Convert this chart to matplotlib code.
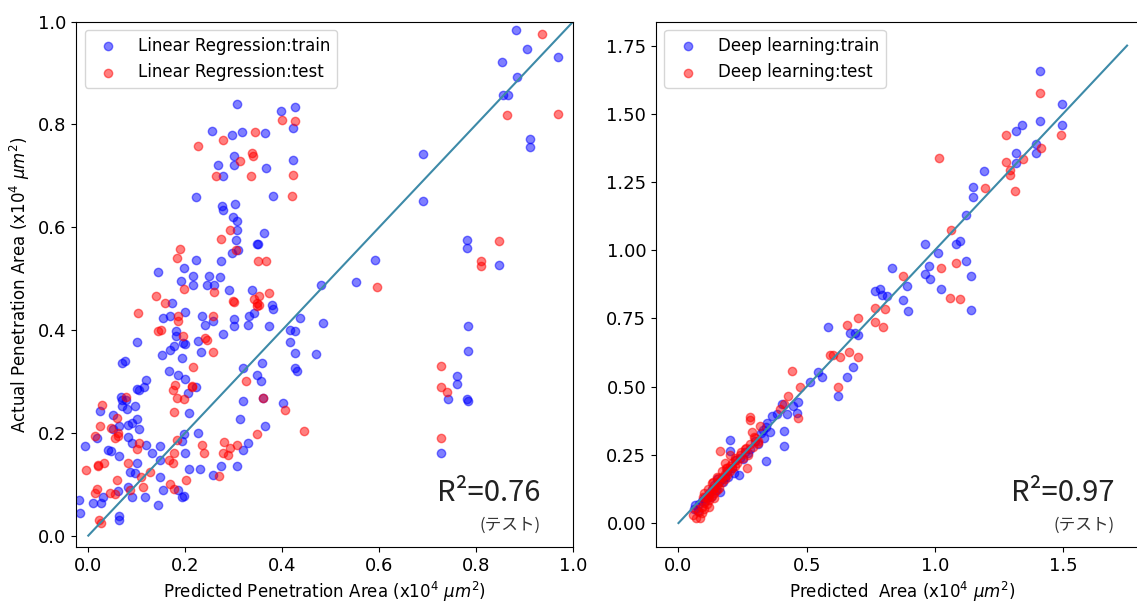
import numpy as np
import matplotlib
matplotlib.use('Agg')
import matplotlib.pyplot as plt

plt.rcParams['font.family'] = ['DejaVu Sans', 'Noto Sans CJK JP']

# ---- Linear regression (left panel) ----
lr_train_x = [0.882, 0.904, 0.969, 0.854, 0.884, 0.856, 0.865, 0.912, 0.912, 0.691, 0.691, 0.781, 0.781, 0.847,
              0.592, 0.553, 0.481, 0.307, 0.397, 0.427, 0.422, 0.256, 0.296, 0.317, 0.365, 0.300, 0.300, 0.268,
              0.367, 0.277, 0.423, 0.223, 0.382, 0.276, 0.303, 0.277, 0.298, 0.307, 0.307, 0.304, 0.362, 0.297,
              0.351, 0.273, 0.222, 0.197, 0.144, 0.216, 0.248, 0.271, 0.191, 0.245, 0.260, 0.216, 0.290, 0.338,
              0.308, 0.348,
              0.172, 0.200, 0.379, 0.381, 0.154, 0.169, 0.234, 0.241, 0.257, 0.300, 0.300, 0.331, 0.341, 0.330,
              0.372, 0.437, 0.485, 0.100, 0.181, 0.181, 0.196, 0.200, 0.226, 0.232, 0.278, 0.152, 0.169, 0.177,
              0.193, 0.069, 0.076, 0.320, 0.358, 0.416, 0.427, 0.416, 0.427, 0.470, 0.427,
              0.166, 0.200, 0.206, 0.185, 0.222, 0.208, 0.227, 0.231, 0.208, 0.200, 0.198, 0.198, 0.193, 0.273,
              0.307, 0.319, 0.330, 0.258, 0.147, 0.147, 0.147, 0.116, 0.143, 0.155, 0.185, 0.193, 0.100, 0.097,
              0.086, 0.082, 0.090, 0.063, 0.061, 0.063, 0.064, 0.031, 0.026, 0.010, -0.017, -0.020, -0.007, 0.017,
              0.025, 0.040, 0.047, 0.050, 0.064, 0.068, 0.070, 0.070, 0.077, 0.080, 0.097, 0.101, 0.105, 0.115,
              0.120, 0.101, 0.082, 0.090, 0.105, 0.082, 0.090, 0.120, 0.132, 0.050, 0.349, 0.357, 0.320, 0.313,
              0.365, 0.401, 0.430, 0.361, 0.781, 0.761, 0.761, 0.742, 0.728, 0.783, 0.783, 0.783]
lr_train_y = [0.984, 0.947, 0.931, 0.921, 0.892, 0.857, 0.857, 0.772, 0.757, 0.742, 0.652, 0.575, 0.560, 0.526,
              0.537, 0.494, 0.487, 0.840, 0.826, 0.835, 0.793, 0.787, 0.780, 0.785, 0.783, 0.738, 0.722, 0.722,
              0.715, 0.700, 0.730, 0.658, 0.660, 0.642, 0.646, 0.634, 0.620, 0.613, 0.595, 0.576, 0.588, 0.550,
              0.567, 0.534, 0.537, 0.521, 0.513, 0.505, 0.506, 0.503, 0.495, 0.487, 0.487, 0.487, 0.477, 0.477,
              0.556, 0.568,
              0.452, 0.436, 0.448, 0.440, 0.424, 0.427, 0.428, 0.410, 0.417, 0.421, 0.408, 0.428, 0.433, 0.410,
              0.408, 0.424, 0.414, 0.376, 0.398, 0.388, 0.375, 0.372, 0.378, 0.358, 0.393, 0.352, 0.362, 0.368,
              0.345, 0.336, 0.340, 0.326, 0.336, 0.401, 0.398, 0.376, 0.355, 0.354, 0.326,
              0.320, 0.305, 0.277, 0.313, 0.289, 0.238, 0.200, 0.129, 0.129, 0.160, 0.078, 0.197, 0.184, 0.135,
              0.135, 0.167, 0.180, 0.118, 0.174, 0.148, 0.115, 0.076, 0.060, 0.089, 0.089, 0.076, 0.141, 0.122,
              0.124, 0.095, 0.076, 0.154, 0.086, 0.038, 0.031, 0.076, 0.063, 0.063, 0.044, 0.070, 0.174, 0.190,
              0.242, 0.167, 0.164, 0.235, 0.213, 0.269, 0.263, 0.253, 0.263, 0.247, 0.253, 0.286, 0.283, 0.290,
              0.302, 0.226, 0.216, 0.219, 0.207, 0.191, 0.180, 0.177, 0.160, 0.207, 0.313, 0.300, 0.262, 0.227,
              0.214, 0.258, 0.321, 0.268, 0.265, 0.310, 0.295, 0.265, 0.160, 0.360, 0.408, 0.262]

lr_test_x = [0.935, 0.863, 0.969, 0.847, 0.810, 0.810, 0.595, 0.400, 0.427, 0.277, 0.344, 0.226, 0.338, 0.340,
             0.313, 0.264, 0.336, 0.422, 0.420, 0.292, 0.273, 0.305, 0.351, 0.367, 0.189, 0.184, 0.353, 0.372,
             0.197, 0.260, 0.139,
             0.159, 0.298, 0.347, 0.347, 0.102, 0.186, 0.186, 0.258, 0.143, 0.150, 0.196, 0.241, 0.244, 0.258,
             0.217, 0.342, 0.353, 0.300,
             0.326, 0.361, 0.349, 0.406, 0.446, 0.214, 0.214, 0.178, 0.174, 0.184, 0.198, 0.176, 0.235, 0.239,
             0.202, 0.176, 0.166, 0.174, 0.177, 0.184, 0.277, 0.280, 0.292, 0.288, 0.307, 0.269, 0.128, 0.109,
             0.113, 0.169, 0.105, 0.101, 0.082, 0.086, 0.059, 0.055, 0.044, 0.023, 0.026, 0.013, 0.017, -0.004,
             0.013, 0.025, 0.029, 0.021, 0.019, 0.032, 0.047, 0.059, 0.061, 0.061, 0.077, 0.056, 0.728, 0.728,
             0.740, 0.728]
lr_test_y = [0.976, 0.818, 0.820, 0.573, 0.534, 0.524, 0.484, 0.809, 0.806, 0.770, 0.785, 0.759, 0.745, 0.738,
             0.728, 0.700, 0.700, 0.702, 0.660, 0.595, 0.577, 0.556, 0.534, 0.534, 0.558, 0.541, 0.467, 0.472,
             0.479, 0.474, 0.466,
             0.452, 0.456, 0.446, 0.452, 0.433, 0.428, 0.417, 0.428, 0.398, 0.401, 0.388, 0.384, 0.381, 0.358,
             0.329, 0.460, 0.449, 0.454,
             0.300, 0.268, 0.197, 0.245, 0.203, 0.292, 0.289, 0.294, 0.284, 0.268, 0.266, 0.240, 0.177, 0.160,
             0.108, 0.090, 0.148, 0.141, 0.160, 0.187, 0.160, 0.183, 0.171, 0.157, 0.177, 0.116, 0.124, 0.115,
             0.095, 0.100, 0.180, 0.168, 0.141, 0.089, 0.109, 0.081, 0.083, 0.031, 0.025, 0.083, 0.090, 0.128,
             0.193, 0.213, 0.255, 0.137, 0.135, 0.141, 0.210, 0.229, 0.200, 0.193, 0.270, 0.190, 0.330, 0.290,
             0.280, 0.189]

# ---- Deep learning (right panel) ----
dl_train_x = [0.060, 0.066, 0.075, 0.080, 0.098, 0.090, 0.110, 0.120, 0.130, 0.140, 0.150, 0.163, 0.160, 0.170,
              0.180, 0.190, 0.200, 0.202, 0.210, 0.220, 0.235, 0.240, 0.260, 0.280, 0.300, 0.320, 0.330, 0.342,
              0.358, 0.342, 0.345, 0.365, 0.384, 0.403, 0.423, 0.447, 0.410, 0.410,
              0.462, 0.468, 0.514, 0.546, 0.559, 0.585, 0.624, 0.656, 0.682, 0.669, 0.689, 0.702, 0.767, 0.786,
              0.793, 0.812, 0.890, 0.877, 0.894, 0.834, 0.961, 0.981, 1.026, 1.143, 1.143, 0.978, 0.961, 1.013,
              1.082, 1.097, 1.123, 1.123, 1.149, 1.149, 1.192, 1.316, 1.318, 1.341, 1.318, 1.395, 1.395, 1.412,
              1.412, 1.497, 1.497,
              0.105, 0.125, 0.145, 0.175, 0.195, 0.215, 0.250, 0.270, 0.310, 0.335]
dl_train_y = [0.050, 0.066, 0.045, 0.070, 0.090, 0.080, 0.100, 0.110, 0.125, 0.140, 0.160, 0.115, 0.150, 0.160,
              0.170, 0.190, 0.306, 0.263, 0.200, 0.230, 0.177, 0.240, 0.260, 0.270, 0.300, 0.330, 0.340, 0.352,
              0.333, 0.226, 0.368, 0.393, 0.399, 0.436, 0.399, 0.430, 0.337, 0.281,
              0.405, 0.442, 0.516, 0.553, 0.534, 0.720, 0.467, 0.534, 0.571, 0.695, 0.697, 0.689, 0.849, 0.856,
              0.837, 0.831, 0.868, 0.819, 0.778, 0.936, 0.911, 0.893, 0.858, 0.781, 0.907, 0.942, 1.022, 0.991,
              1.022, 1.034, 0.960, 1.130, 1.233, 1.196, 1.291, 1.357, 1.320, 1.458, 1.438, 1.389, 1.356, 1.475,
              1.658, 1.537, 1.458,
              0.080, 0.095, 0.120, 0.150, 0.170, 0.185, 0.235, 0.255, 0.290, 0.310]

dl_test_x = [0.055, 0.070, 0.085, 0.070, 0.080, 0.090, 0.090, 0.100, 0.100, 0.110, 0.110, 0.120, 0.120, 0.130,
             0.130, 0.140, 0.140, 0.150, 0.150, 0.160, 0.160, 0.170, 0.170, 0.180, 0.180, 0.190, 0.190, 0.200,
             0.200, 0.210, 0.210, 0.220, 0.220, 0.230, 0.240, 0.250, 0.260, 0.270, 0.280, 0.290, 0.300, 0.310,
             0.100, 0.130, 0.150, 0.170, 0.120, 0.140, 0.163, 0.267, 0.280, 0.287, 0.293, 0.312, 0.180, 0.200,
             0.280, 0.319, 0.397, 0.410, 0.429, 0.442, 0.468, 0.475, 0.591, 0.604, 0.630, 0.624, 0.667, 0.702,
             0.656, 0.702, 0.767, 0.799, 0.767, 0.805, 0.877, 1.061, 1.097, 1.026, 1.084, 1.065, 1.017, 1.195,
             1.311, 1.294, 1.294, 1.279, 1.344, 1.279, 1.415, 1.493, 1.412,
             0.095, 0.115, 0.135, 0.155, 0.185, 0.225, 0.245, 0.265]
dl_test_y = [0.030, 0.020, 0.020, 0.050, 0.040, 0.035, 0.060, 0.050, 0.075, 0.070, 0.090, 0.085, 0.100, 0.100,
             0.120, 0.110, 0.130, 0.120, 0.140, 0.130, 0.155, 0.150, 0.170, 0.160, 0.180, 0.175, 0.200, 0.190,
             0.210, 0.200, 0.220, 0.210, 0.240, 0.220, 0.250, 0.240, 0.270, 0.250, 0.290, 0.280, 0.310, 0.300,
             0.110, 0.145, 0.170, 0.190, 0.060, 0.090, 0.263, 0.201, 0.378, 0.333, 0.314, 0.294, 0.220, 0.250,
             0.388, 0.356, 0.417, 0.436, 0.467, 0.559, 0.386, 0.497, 0.615, 0.615, 0.608, 0.497, 0.627, 0.608,
             0.726, 0.751, 0.738, 0.720, 0.788, 0.784, 0.905, 0.825, 0.820, 0.936, 0.952, 1.073, 1.337, 1.227,
             1.216, 1.294, 1.275, 1.325, 1.334, 1.421, 1.375, 1.421, 1.578,
             0.095, 0.125, 0.150, 0.165, 0.200, 0.230, 0.260, 0.275]

line_color = '#3d8aa8'

fig = plt.figure(figsize=(11.37, 6.03), dpi=100)

# Left: linear regression
ax1 = fig.add_axes([0.067, 0.093, 0.437, 0.871])
ax1.scatter(lr_train_x, lr_train_y, c='b', alpha=0.5, s=36, label='Linear Regression:train')
ax1.scatter(lr_test_x, lr_test_y, c='r', alpha=0.5, s=36, label='Linear Regression:test')
ax1.plot([0, 1], [0, 1], color=line_color, lw=1.5)
ax1.set_xlim(-0.025, 1.0)
ax1.set_ylim(-0.022, 1.0)
ax1.set_xticks([0.0, 0.2, 0.4, 0.6, 0.8, 1.0])
ax1.set_yticks([0.0, 0.2, 0.4, 0.6, 0.8, 1.0])
ax1.tick_params(labelsize=13)
ax1.set_xlabel('Predicted Penetration Area (x10$^4$ $\\mu m^2$)', fontsize=12)
ax1.set_ylabel('Actual Penetration Area (x10$^4$ $\\mu m^2$)', fontsize=12)
ax1.legend(loc='upper left', fontsize=12)
ax1.text(0.935, 0.075, 'R²=0.76', transform=ax1.transAxes, ha='right', va='bottom',
         fontsize=21, family=['Noto Sans CJK JP'], color='#222222')
ax1.text(0.935, 0.025, '(テスト)', transform=ax1.transAxes, ha='right', va='bottom',
         fontsize=12, family=['Noto Sans CJK JP'], color='#333333')

# Right: deep learning
ax2 = fig.add_axes([0.577, 0.093, 0.434, 0.871])
ax2.scatter(dl_train_x, dl_train_y, c='b', alpha=0.5, s=36, label='Deep learning:train')
ax2.scatter(dl_test_x, dl_test_y, c='r', alpha=0.5, s=36, label='Deep learning:test')
ax2.plot([0, 1.75], [0, 1.75], color=line_color, lw=1.5)
ax2.set_xlim(-0.0875, 1.8375)
ax2.set_ylim(-0.0875, 1.8375)
ax2.set_xticks([0.0, 0.5, 1.0, 1.5])
ax2.set_yticks([0.0, 0.25, 0.5, 0.75, 1.0, 1.25, 1.5, 1.75])
ax2.yaxis.set_major_formatter(matplotlib.ticker.FormatStrFormatter('%.2f'))
ax2.tick_params(labelsize=13)
ax2.set_xlabel('Predicted  Area (x10$^4$ $\\mu m^2$)', fontsize=12)
ax2.legend(loc='upper left', fontsize=12)
ax2.text(0.93, 0.075, 'R²=0.97', transform=ax2.transAxes, ha='right', va='bottom',
         fontsize=21, family=['Noto Sans CJK JP'], color='#222222')
ax2.text(0.93, 0.025, '(テスト)', transform=ax2.transAxes, ha='right', va='bottom',
         fontsize=12, family=['Noto Sans CJK JP'], color='#333333')

plt.savefig('out.png', dpi=100)
plt.close()
